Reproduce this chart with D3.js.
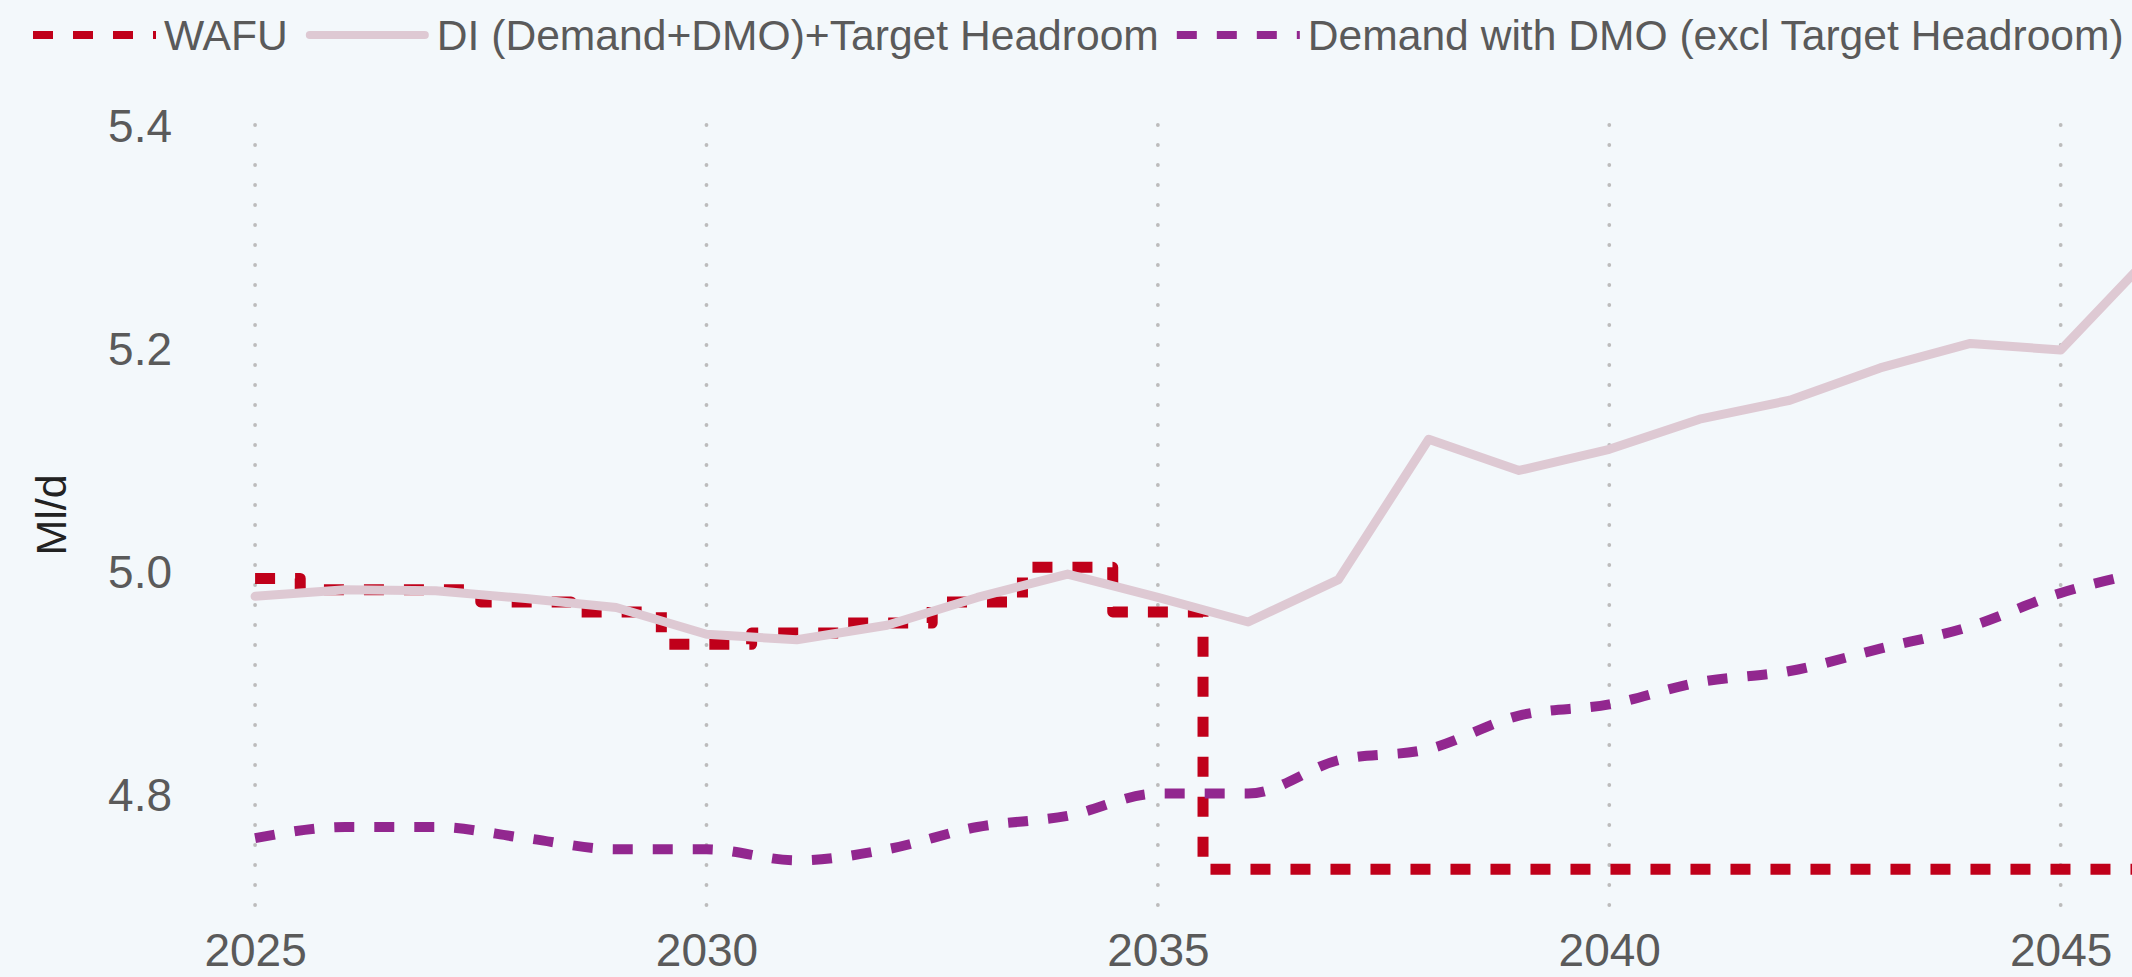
<!DOCTYPE html>
<html>
<head>
<meta charset="utf-8">
<script src="https://cdn.jsdelivr.net/npm/d3@7"></script>
<style>
  html, body { margin: 0; padding: 0; background: #f3f8fb; }
  svg { display: block; font-family: "Liberation Sans", Arial, sans-serif; }
</style>
</head>
<body>
<svg id="chart"></svg>
<script>
// data
const years = d3.range(2025, 2047);
const wafu = [4.993, 4.983, 4.983, 4.972, 4.963, 4.934, 4.944, 4.953, 4.972, 5.003, 4.963,
  4.732, 4.732, 4.732, 4.732, 4.732, 4.732, 4.732, 4.732, 4.732, 4.732, 4.732];
const diHeadroom = [4.977, 4.983, 4.982, 4.975, 4.967, 4.943, 4.938, 4.951, 4.976, 4.997, 4.976,
  4.954, 4.992, 5.118, 5.090, 5.109, 5.136, 5.153, 5.182, 5.204, 5.198, 5.283];
const demandDmo = [4.76, 4.77, 4.77, 4.76, 4.75, 4.75, 4.74, 4.75, 4.77, 4.78, 4.80,
  4.80, 4.83, 4.84, 4.87, 4.88, 4.90, 4.91, 4.93, 4.95, 4.98, 5.00];
const xTicks = [2025, 2030, 2035, 2040, 2045];
const yTicks = [4.8, 5.0, 5.2, 5.4];
const seriesNames = ["WAFU", "DI (Demand+DMO)+Target Headroom", "Demand with DMO (excl Target Headroom)"];

const W = 2132, H = 977;
const plot = { left: 228, right: 2132, top: 125, bottom: 905 };

const svg = d3.select("#chart").attr("width", W).attr("height", H);
svg.append("rect").attr("width", W).attr("height", H).attr("fill", "#f3f8fb");

const x = d3.scaleLinear().domain([2024.7, 2045.79]).range([plot.left, plot.right]);
const y = d3.scaleLinear().domain([4.7, 5.4]).range([plot.bottom, plot.top]);

svg.append("defs").append("clipPath").attr("id", "clip")
  .append("rect")
  .attr("x", plot.left).attr("y", plot.top - 20)
  .attr("width", plot.right - plot.left).attr("height", plot.bottom - plot.top + 40);

// dotted vertical gridlines
svg.append("g").selectAll("line")
  .data(xTicks)
  .join("line")
  .attr("x1", d => x(d)).attr("x2", d => x(d))
  .attr("y1", plot.top).attr("y2", plot.bottom)
  .attr("stroke", "#bcbcbc")
  .attr("stroke-width", 3.8)
  .attr("stroke-linecap", "round")
  .attr("stroke-dasharray", "0.1,19.9");

// axes (labels only)
const xAxis = d3.axisBottom(x).tickValues(xTicks).tickFormat(d3.format("d")).tickSize(0).tickPadding(0);
const gX = svg.append("g").attr("transform", "translate(0," + 966 + ")").call(xAxis);
gX.select(".domain").remove();
gX.selectAll("text").attr("dy", 0).attr("y", 0)
  .attr("fill", "#5a5a5a").style("font-size", "46px");

const yAxis = d3.axisLeft(y).tickValues(yTicks).tickFormat(d3.format(".1f")).tickSize(0).tickPadding(0);
const gY = svg.append("g").attr("transform", "translate(172,0)").call(yAxis);
gY.select(".domain").remove();
gY.selectAll("text").attr("dy", "0.36em")
  .attr("fill", "#5a5a5a").style("font-size", "46px");

svg.append("text")
  .attr("transform", "translate(51," + ((plot.top + plot.bottom) / 2) + ") rotate(-90)")
  .attr("text-anchor", "middle")
  .attr("dy", "0.36em")
  .attr("fill", "#222222")
  .style("font-size", "43px")
  .text("Ml/d");

// series
const body = svg.append("g").attr("clip-path", "url(#clip)");

const wafuLine = d3.line().x((d, i) => x(years[i])).y(d => y(d)).curve(d3.curveStep);
body.append("path")
  .datum(wafu)
  .attr("d", wafuLine)
  .attr("fill", "none")
  .attr("stroke", "#c0001a")
  .attr("stroke-width", 11)
  .attr("stroke-linejoin", "round")
  .attr("stroke-dasharray", "20,20");

const diLine = d3.line().x((d, i) => x(years[i])).y(d => y(d));
body.append("path")
  .datum(diHeadroom)
  .attr("d", diLine)
  .attr("fill", "none")
  .attr("stroke", "#dec9d3")
  .attr("stroke-width", 9)
  .attr("stroke-linejoin", "round")
  .attr("stroke-linecap", "round");

const dmoLine = d3.line().x((d, i) => x(years[i])).y(d => y(d)).curve(d3.curveMonotoneX);
body.append("path")
  .datum(demandDmo)
  .attr("d", dmoLine)
  .attr("fill", "none")
  .attr("stroke", "#92278f")
  .attr("stroke-width", 10)
  .attr("stroke-dasharray", "20,20");

// legend
const legendStyles = [
  { color: "#c0001a", dash: "20,20", cap: "butt" },
  { color: "#dec9d3", dash: null, cap: "round" },
  { color: "#92278f", dash: "20,20", cap: "butt" }
];
const legend = svg.append("g").attr("transform", "translate(0,35)");
let lx = 33;
seriesNames.forEach((name, i) => {
  const st = legendStyles[i];
  const capPad = st.cap === "round" ? 4 : 0;
  legend.append("line")
    .attr("x1", lx + capPad).attr("x2", lx + 123 - capPad)
    .attr("y1", 0).attr("y2", 0)
    .attr("stroke", st.color)
    .attr("stroke-width", 8)
    .attr("stroke-linecap", st.cap)
    .attr("stroke-dasharray", st.dash);
  const t = legend.append("text")
    .attr("x", lx + 131).attr("y", 0)
    .attr("dy", "0.36em")
    .attr("fill", "#5a5a5a")
    .style("font-size", "42.6px")
    .text(name);
  lx += 131 + t.node().getComputedTextLength() + 18;
});
</script>
</body>
</html>
